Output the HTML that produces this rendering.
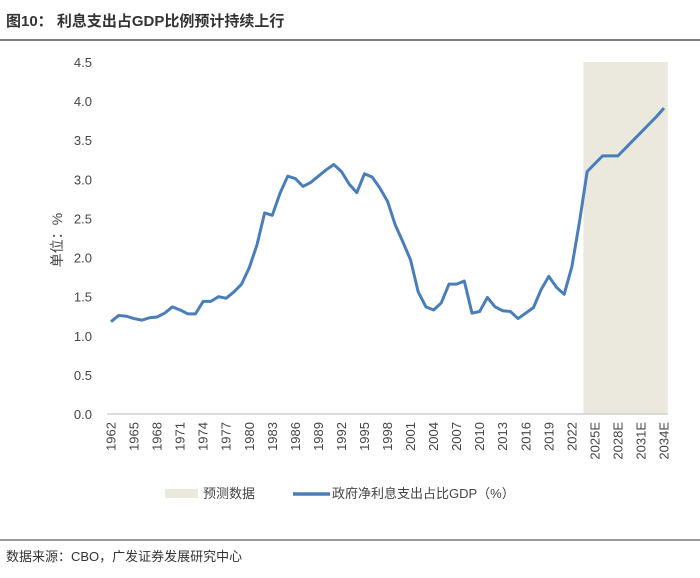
<!DOCTYPE html>
<html><head><meta charset="utf-8"><style>
body{margin:0;background:#fff;font-family:"Liberation Sans","Noto Sans CJK SC",sans-serif;}
svg text{font-family:"Liberation Sans","Noto Sans CJK SC",sans-serif;}
</style></head><body>
<svg width="700" height="573">
<text x="6" y="26" font-size="15" font-weight="bold" fill="#333">图10：  利息支出占GDP比例预计持续上行</text>
<line x1="0" y1="40" x2="700" y2="40" stroke="#333" stroke-width="1.2"/>
<g id="plot"></g>
<text transform="translate(62,240) rotate(-90)" font-size="14" fill="#444" text-anchor="middle">单位：%</text>
<rect x="165" y="489" width="33" height="9" fill="#ebe9de"/>
<text x="203" y="498" font-size="13" fill="#444">预测数据</text>
<line x1="293" y1="494" x2="330" y2="494" stroke="#4a7ebb" stroke-width="3.5"/>
<text x="332" y="498" font-size="13" fill="#444">政府净利息支出占比GDP（%）</text>
<line x1="0" y1="540" x2="700" y2="540" stroke="#333" stroke-width="1"/>
<text x="6" y="561" font-size="13" fill="#333">数据来源：CBO，广发证券发展研究中心</text>
</svg>
<script>
const years=[];for(let y=1962;y<=2034;y++)years.push(y);
const values=[1.18,1.26,1.25,1.22,1.20,1.23,1.24,1.29,1.37,1.33,1.28,1.28,1.44,1.44,1.50,1.48,1.56,1.66,1.87,2.16,2.57,2.54,2.82,3.04,3.01,2.91,2.96,3.04,3.12,3.19,3.10,2.94,2.83,3.07,3.03,2.89,2.72,2.42,2.20,1.97,1.56,1.37,1.33,1.42,1.66,1.66,1.70,1.29,1.31,1.49,1.37,1.32,1.31,1.22,1.29,1.36,1.59,1.76,1.62,1.53,1.88,2.46,3.10,3.20,3.30,3.30,3.30,3.40,3.50,3.60,3.70,3.80,3.91];
const yTicks=[0,0.5,1,1.5,2,2.5,3,3.5,4,4.5];
const forecastStart=2024,forecastEnd=2034;
const x0=111,xStep=(664-111)/72,yBase=414,yPer=(414-62)/4.5;
const X=y=>x0+(y-1962)*xStep, Y=v=>yBase-v*yPer;
const ns="http://www.w3.org/2000/svg",g=document.getElementById('plot');
function mk(t,a){const e=document.createElementNS(ns,t);for(const k in a)e.setAttribute(k,a[k]);g.appendChild(e);return e;}
let r=mk('rect',{x:X(forecastStart-0.5),y:Y(4.5),width:X(forecastEnd+0.5)-X(forecastStart-0.5),height:Y(0)-Y(4.5),fill:'#ebe9de'});


let ax=mk('line',{x1:X(1961.5),x2:X(2034.5),y1:yBase,y2:yBase,stroke:'#d0d0d0','stroke-width':1.5});


yTicks.forEach(v=>{const t=mk('text',{x:92,y:Y(v)+5,'font-size':13,fill:'#444','text-anchor':'end'});t.textContent=v.toFixed(1);

});
years.forEach((y,i)=>{if((y-1962)%3)return;const lab=y>=2025?y+'E':''+y;const cx=X(y);
const t=mk('text',{transform:`translate(${cx+4.5},${yBase+8}) rotate(-90)`,'font-size':13,fill:'#444','text-anchor':'end'});t.textContent=lab;

});
const p=mk('polyline',{points:values.map((v,i)=>X(years[i])+','+Y(v)).join(' '),fill:'none',stroke:'#4a7ebb','stroke-width':3,'stroke-linejoin':'round'});


</script>
</body></html>
